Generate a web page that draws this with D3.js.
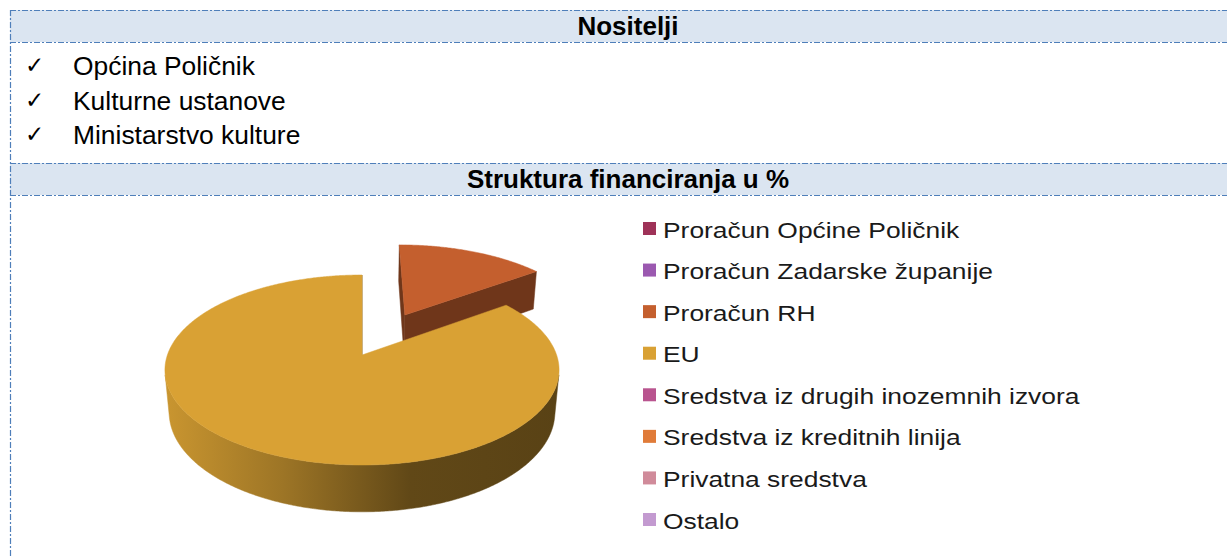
<!DOCTYPE html>
<html>
<head>
<meta charset="utf-8">
<script src="https://cdn.jsdelivr.net/npm/d3@7"></script>
<style>
  body { margin: 0; background: #fff; }
  text { font-family: "Liberation Sans", Arial, sans-serif; }
</style>
</head>
<body>
<div id="chart"></div>
<script>
// data
var nositelji = ["Općina Poličnik", "Kulturne ustanove", "Ministarstvo kulture"];
var headers = ["Nositelji", "Struktura financiranja u %"];
var categories = [
  "Proračun Općine Poličnik",
  "Proračun Zadarske županije",
  "Proračun RH",
  "EU",
  "Sredstva iz drugih inozemnih izvora",
  "Sredstva iz kreditnih linija",
  "Privatna sredstva",
  "Ostalo"
];
var shares = [0, 0, 15, 85, 0, 0, 0, 0];
var colors = ["#9e3258", "#9b59b0", "#c45f2e", "#d9a134", "#b9548f", "#e07b39", "#d08b9a", "#c39ad0"];

var width = 1227, height = 557;
var svg = d3.select("#chart").append("svg")
  .attr("width", width)
  .attr("height", height);

/* table frame */
var lineColor = "#4f7fba";
var dash = "6 2 2 2";
var rows = [[10, 42], [163, 195]];

rows.forEach(function(r, i) {
  svg.append("rect")
    .attr("x", 10).attr("y", r[0])
    .attr("width", width - 10).attr("height", r[1] - r[0])
    .attr("fill", "#dbe5f1");
  svg.append("text")
    .attr("x", 628).attr("y", (r[0] + r[1]) / 2 + 9)
    .attr("text-anchor", "middle")
    .attr("font-size", 26).attr("font-weight", "bold")
    .attr("fill", "#000")
    .text(headers[i]);
});

[10, 42, 163, 195].forEach(function(y) {
  svg.append("line")
    .attr("x1", 10).attr("x2", width)
    .attr("y1", y + 0.5).attr("y2", y + 0.5)
    .attr("stroke", lineColor).attr("stroke-width", 1.2)
    .attr("stroke-dasharray", dash);
});
svg.append("line")
  .attr("x1", 10.5).attr("x2", 10.5)
  .attr("y1", 10).attr("y2", height)
  .attr("stroke", lineColor).attr("stroke-width", 1.2)
  .attr("stroke-dasharray", dash);

/* list of nositelji */
nositelji.forEach(function(n, i) {
  var y = 75 + i * 34.5;
  svg.append("text")
    .attr("x", 25).attr("y", y - 2)
    .attr("font-family", "DejaVu Sans")
    .attr("font-size", 23)
    .text("\u2713");
  svg.append("text")
    .attr("x", 73).attr("y", y)
    .attr("font-size", 26.4)
    .attr("fill", "#000")
    .text(n);
});

/* 3D pie */
var sinA = 0.476, cosA = Math.sqrt(1 - sinA * sinA);
var D = 5.57, K = 194.6, CX = 362, CY = 355, H = 0.25;
var explodeBy = { "Proračun RH": 0.52 };
var cam = [0, D * sinA, -D * cosA];

function proj(X, Y, Z) {
  var up = Z * sinA + Y * cosA;
  var dep = Z * cosA - Y * sinA;
  var s = D / (D + dep);
  return [CX + K * X * s, CY - K * up * s];
}

var pie = d3.pie().sort(null).value(function(d) { return d.v; });
var arcs = pie(categories.map(function(c, i) { return { name: c, v: shares[i], color: colors[i] }; }))
  .filter(function(a) { return a.value > 0; });

arcs.forEach(function(a) {
  var mid = (a.startAngle + a.endAngle) / 2;
  var e = explodeBy[a.data.name] || 0;
  a.ox = e * Math.sin(mid);
  a.oz = e * Math.cos(mid);
  a.depth = (a.oz + 0.5 * Math.cos(mid)) * cosA;
});
arcs.sort(function(p, q) { return q.depth - p.depth; });

var defs = svg.append("defs");
var line = d3.line();
var gPie = svg.append("g");

arcs.forEach(function(a, idx) {
  var base = d3.color(a.data.color);
  var pt = function(t, y) { return proj(a.ox + Math.sin(t), y, a.oz + Math.cos(t)); };
  var step = Math.PI / 360;
  var angles = d3.range(a.startAngle, a.endAngle, step).concat([a.endAngle]);

  var gid = "wall" + idx;
  var grad = defs.append("linearGradient").attr("id", gid)
    .attr("gradientUnits", "userSpaceOnUse")
    .attr("x1", CX - K * 1.02).attr("x2", CX + K * 1.02)
    .attr("y1", 0).attr("y2", 0);
  [[0, 0.2], [0.3, 0.9], [0.62, 2.25], [1, 2.5]].forEach(function(s) {
    grad.append("stop").attr("offset", s[0]).attr("stop-color", base.darker(s[1]).formatHex());
  });

  // radial faces
  var O = [a.ox, 0, a.oz];
  [[a.startAngle, [-Math.cos(a.startAngle), 0, Math.sin(a.startAngle)]],
   [a.endAngle, [Math.cos(a.endAngle), 0, -Math.sin(a.endAngle)]]].forEach(function(f) {
    var n = f[1];
    var vis = n[0] * (cam[0] - O[0]) + n[2] * (cam[2] - O[2]);
    if (vis <= 0) return;
    var poly = [proj(a.ox, 0, a.oz), pt(f[0], 0), pt(f[0], -H), proj(a.ox, -H, a.oz)];
    gPie.append("path")
      .attr("d", line(poly) + "Z")
      .attr("fill", base.darker(1.6))
      .attr("stroke", base.darker(1.6)).attr("stroke-width", 0.5);
  });

  // outer wall, front facing part only
  var runs = [], cur = null;
  angles.forEach(function(t) {
    var v = -a.ox * Math.sin(t) - a.oz * Math.cos(t) - D * cosA * Math.cos(t) - 1;
    if (v > 0) { if (!cur) { cur = []; runs.push(cur); } cur.push(t); }
    else cur = null;
  });
  runs.forEach(function(r) {
    var poly = r.map(function(t) { return pt(t, 0); })
      .concat(r.slice().reverse().map(function(t) { return pt(t, -H); }));
    gPie.append("path")
      .attr("d", line(poly) + "Z")
      .attr("fill", "url(#" + gid + ")")
      .attr("stroke", "url(#" + gid + ")").attr("stroke-width", 0.5);
  });

  // top
  var top = [proj(a.ox, 0, a.oz)].concat(angles.map(function(t) { return pt(t, 0); }));
  gPie.append("path")
    .attr("d", line(top) + "Z")
    .attr("fill", base.formatHex())
    .attr("stroke", base.formatHex()).attr("stroke-width", 0.5);
});

/* legend */
var ly = d3.scalePoint().domain(categories).range([229, 520]);
var legend = svg.append("g").selectAll("g")
  .data(categories).enter().append("g")
  .attr("transform", function(d) { return "translate(643," + ly(d) + ")"; });

legend.append("rect")
  .attr("x", 0).attr("y", -7)
  .attr("width", 13).attr("height", 13)
  .attr("fill", function(d, i) { return colors[i]; });

legend.append("text")
  .attr("transform", "translate(20,8.5) scale(1.2,1)")
  .attr("font-size", 22)
  .attr("fill", "#1a1a1a")
  .text(function(d) { return d; });
</script>
</body>
</html>
